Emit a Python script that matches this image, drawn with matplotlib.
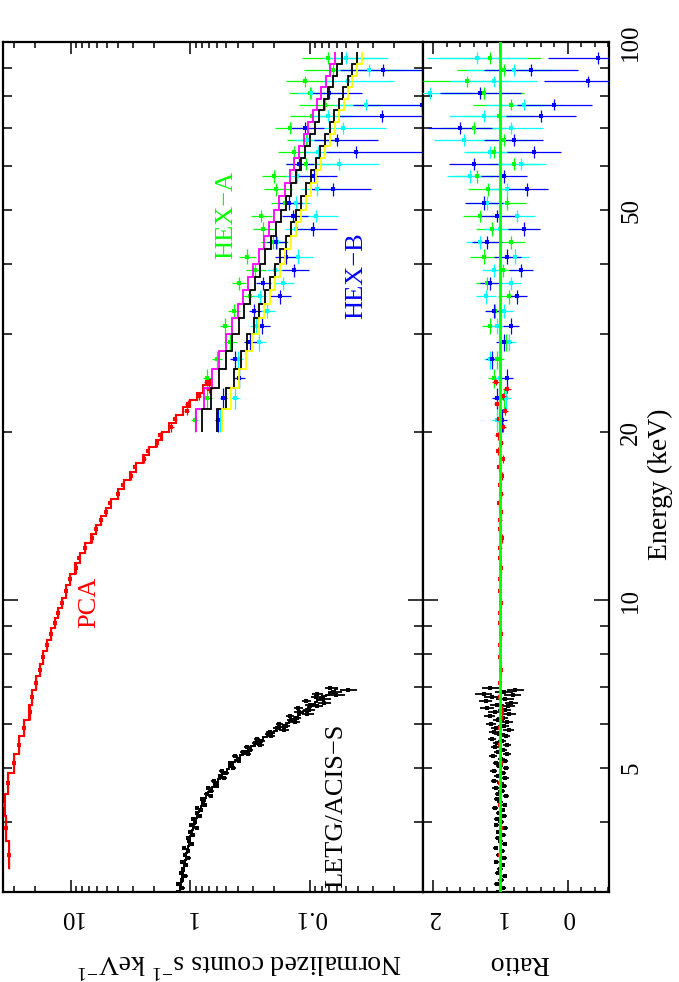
import numpy as np
import matplotlib.pyplot as plt
from matplotlib.ticker import MultipleLocator, LogLocator, NullFormatter

plt.rcParams['font.family'] = ['Liberation Serif', 'DejaVu Serif']
plt.rcParams['mathtext.fontset'] = 'custom'
plt.rcParams['mathtext.rm'] = 'Liberation Serif'

# LETG/ACIS-S (black): bin centres (keV), model counts, data/model ratio, ratio error
letg_e = [3.00, 3.05, 3.10, 3.15, 3.20, 3.25, 3.30, 3.35, 3.40, 3.45,
          3.50, 3.55, 3.60, 3.65, 3.70, 3.75, 3.80, 3.85, 3.90, 3.95,
          4.00, 4.05, 4.10, 4.15, 4.20, 4.25, 4.30, 4.35, 4.40, 4.45,
          4.50, 4.55, 4.60, 4.65, 4.70, 4.75, 4.80, 4.85, 4.90, 4.95,
          5.00, 5.05, 5.10, 5.15, 5.20, 5.25, 5.30, 5.35, 5.40, 5.45,
          5.50, 5.55, 5.60, 5.65, 5.70, 5.75, 5.80, 5.85, 5.90, 5.95,
          6.00, 6.05, 6.10, 6.15, 6.20, 6.25, 6.30, 6.35, 6.40, 6.45,
          6.50, 6.55, 6.60, 6.65, 6.70, 6.75, 6.80, 6.85, 6.90, 6.95]
letg_model = [1.23, 1.215, 1.20, 1.185, 1.17, 1.155, 1.14, 1.125, 1.11, 1.095,
              1.08, 1.065, 1.05, 1.035, 1.02, 1.005, 0.99, 0.972, 0.955, 0.937,
              0.92, 0.90, 0.88, 0.86, 0.84, 0.82, 0.80, 0.78, 0.76, 0.735,
              0.71, 0.685, 0.66, 0.635, 0.61, 0.587, 0.565, 0.542, 0.52, 0.497,
              0.475, 0.457, 0.44, 0.42, 0.40, 0.382, 0.365, 0.347, 0.33, 0.31,
              0.29, 0.275, 0.26, 0.245, 0.23, 0.215, 0.20, 0.189, 0.178, 0.168,
              0.158, 0.149, 0.140, 0.133, 0.127, 0.121, 0.115, 0.109, 0.104, 0.099,
              0.095, 0.091, 0.088, 0.083, 0.079, 0.074, 0.070, 0.066, 0.062, 0.059]
letg_ratio = [1.03, 0.96, 1.05, 0.99, 0.94, 1.04, 1.01, 0.97, 1.06, 0.95,
              1.02, 0.98, 1.07, 0.94, 1.00, 1.04, 0.96, 1.03, 0.93, 1.06,
              0.99, 1.05, 0.95, 1.02, 0.97, 1.08, 0.94, 1.01, 1.05, 0.92,
              1.03, 0.98, 1.07, 0.95, 1.00, 1.09, 0.93, 1.04, 0.97, 1.10,
              0.92, 1.02, 1.06, 0.94, 0.99, 1.11, 0.91, 1.04, 0.96, 1.08,
              0.90, 1.05, 0.98, 1.13, 0.92, 1.02, 1.09, 0.88, 1.06, 0.95,
              1.14, 0.90, 1.03, 0.97, 1.16, 0.87, 1.08, 0.94, 1.20, 0.89,
              1.05, 0.84, 1.22, 0.93, 1.12, 0.82, 1.25, 0.95, 0.78, 1.15]
letg_rerr = [0.04, 0.04, 0.04, 0.04, 0.04, 0.04, 0.04, 0.04, 0.04, 0.04,
             0.04, 0.04, 0.04, 0.04, 0.04, 0.04, 0.04, 0.04, 0.04, 0.04,
             0.04, 0.04, 0.04, 0.04, 0.04, 0.04, 0.04, 0.04, 0.04, 0.04,
             0.05, 0.05, 0.05, 0.05, 0.05, 0.05, 0.05, 0.05, 0.05, 0.05,
             0.05, 0.05, 0.05, 0.05, 0.05, 0.06, 0.06, 0.06, 0.06, 0.06,
             0.06, 0.06, 0.06, 0.06, 0.06, 0.08, 0.08, 0.08, 0.08, 0.08,
             0.08, 0.08, 0.08, 0.08, 0.08, 0.10, 0.10, 0.10, 0.10, 0.10,
             0.10, 0.10, 0.10, 0.13, 0.13, 0.13, 0.13, 0.13, 0.13, 0.13]
letg_half = 0.025

# PCA (red): bin edges, model, ratio, ratio error
pca_edges = [3.3, 3.7, 4.1, 4.5, 4.9, 5.3, 5.7, 6.1, 6.5, 6.9, 7.3, 7.7, 8.1,
             8.5, 8.9, 9.3, 9.7, 10.1, 10.65, 11.15, 11.65, 12.15, 12.65,
             13.15, 13.65, 14.15, 14.65, 15.2, 15.8, 16.4, 17.0, 17.6, 18.2,
             18.8, 19.4, 20.05, 20.75, 21.45, 22.15, 22.85, 23.55, 24.25, 24.95]
pca_model = [33, 35, 35.5, 33.5, 30, 27, 24.5, 22.5, 21, 19.5,
             18.2, 17, 15.8, 14.7, 13.6, 12.7, 11.9, 11.0, 10.2, 9.2,
             8.4, 7.6, 6.8, 6.1, 5.6, 5.1, 4.6, 4.05, 3.6, 3.2,
             2.85, 2.5, 2.2, 1.93, 1.72, 1.50, 1.32, 1.15, 1.0, 0.88, 0.78, 0.69]
pca_ratio = [1.00, 0.99, 1.01, 1.00, 0.99, 1.01, 1.00, 0.98, 1.01, 1.00,
             0.99, 1.01, 1.00, 0.99, 1.00, 1.01, 0.99, 1.00, 1.00, 0.99,
             1.01, 1.00, 0.98, 1.01, 1.00, 0.99, 1.02, 0.99, 1.01, 0.98,
             1.02, 0.97, 1.03, 0.99, 1.04, 0.96, 1.02, 0.93, 1.05, 0.97, 0.90, 1.06]
pca_rerr = [0.010, 0.010, 0.010, 0.010, 0.010, 0.010, 0.010, 0.010, 0.010, 0.010,
            0.011, 0.011, 0.011, 0.012, 0.012, 0.012, 0.013, 0.013, 0.014, 0.014,
            0.015, 0.015, 0.016, 0.017, 0.018, 0.019, 0.020, 0.021, 0.022, 0.024,
            0.026, 0.028, 0.030, 0.032, 0.035, 0.038, 0.041, 0.044, 0.048, 0.052,
            0.056, 0.060]

# HEXTE: bin edges, cluster-A model, cross-normalisation of the four model curves
hex_edges = [20.0, 22.0, 24.0, 26.0, 28.0, 30.0, 32.0, 34.0, 36.0, 38.0, 40.0,
             42.5, 45.0, 47.5, 50.0, 53.0, 56.0, 59.0, 62.0, 65.0, 68.5, 72.0,
             75.5, 79.0, 83.0, 87.0, 91.5, 96.0]
hex_model = [0.90, 0.765, 0.659, 0.574, 0.505, 0.448, 0.401, 0.361, 0.327, 0.297,
             0.269, 0.242, 0.219, 0.199, 0.181, 0.163, 0.148, 0.135, 0.124, 0.113,
             0.104, 0.095, 0.0874, 0.0803, 0.0736, 0.0675, 0.0618]
hex_norm = [1.0, 0.88, 0.66, 0.60]
hex_line_colors = ['#ff00ff', 'black', 'black', '#ffff00']
hexa_ratio = [1.02, 0.95, 1.10, 1.05, 0.92, 1.15, 1.08, 0.88, 1.20, 0.97,
              1.25, 0.85, 1.12, 1.30, 0.90, 1.18, 1.35, 0.80, 1.10, 0.95,
              1.40, 1.02, 0.85, 1.25, 1.50, 0.95, 1.15]
hexc_ratio = [1.05, 0.92, 1.00, 1.15, 0.88, 1.05, 0.95, 1.22, 0.85, 1.10,
              0.78, 1.30, 1.00, 0.75, 1.20, 0.90, 1.45, 0.70, 1.15, 1.55,
              0.85, 1.25, 0.65, 2.05, 1.10, 0.80, 1.35]
hexb_ratio = [0.98, 1.05, 0.90, 1.12, 0.95, 0.85, 1.10, 0.75, 1.15, 0.70,
              0.90, 1.20, 0.65, 1.05, 1.25, 0.60, 0.95, 1.40, 0.50, 0.80,
              1.60, 0.40, 0.20, 1.30, -0.30, 0.55, -0.45]
hex_rerr = [0.07, 0.08, 0.09, 0.10, 0.11, 0.12, 0.13, 0.15, 0.16, 0.18,
            0.20, 0.22, 0.24, 0.26, 0.28, 0.31, 0.34, 0.37, 0.40, 0.44,
            0.48, 0.52, 0.56, 0.60, 0.65, 0.70, 0.75]

RED, GREEN, BLUE, CYAN = '#ff0000', '#00ff00', '#0000ff', '#00ffff'

W, H = 679, 982
fig = plt.figure(figsize=(W / 100, H / 100), dpi=100)


def fx(x):
    return x / W


def fy(y):
    return 1 - y / H


x0, x1, x2, ytop, ybot = 3, 422.7, 609, 42, 892
ax1 = fig.add_axes([fx(x0), fy(ybot), (x1 - x0) / W, (ybot - ytop) / H])
ax2 = fig.add_axes([fx(x1), fy(ybot), (x2 - x1) / W, (ybot - ytop) / H], sharey=ax1)


def points(ax, e, ehalf, val, lo, hi, color, z=3, ms=2.2, lw=0.9):
    ax.errorbar(val, e, xerr=[lo, hi], yerr=ehalf, fmt='s', ms=ms, mew=0,
                color=color, elinewidth=lw, capsize=0, zorder=z)


def spectrum(e, ehalf, model, ratio, rerr, color, z=3, ms=2.2, lw=0.9):
    e, ehalf = np.asarray(e), np.asarray(ehalf)
    model, ratio, rerr = np.asarray(model), np.asarray(ratio), np.asarray(rerr)
    data = model * ratio
    err = model * rerr
    ok = data > 0
    lo = np.minimum(err, data * 0.995)
    points(ax1, e[ok], ehalf[ok], data[ok], lo[ok], err[ok], color, z, ms, lw)
    points(ax2, e, ehalf, ratio, rerr, rerr, color, z, ms, lw)


# LETG
le = np.asarray(letg_e)
letg_edges = np.append(le - letg_half, le[-1] + letg_half)
spectrum(le, np.full(le.size, letg_half), letg_model, letg_ratio, letg_rerr,
         'black', 3, 3.0, 1.3)
ax1.stairs(letg_model, letg_edges, orientation='horizontal', baseline=None,
           color='black', lw=1.4, zorder=4)

# PCA
pe = np.asarray(pca_edges)
spectrum((pe[1:] + pe[:-1]) / 2, (pe[1:] - pe[:-1]) / 2, pca_model, pca_ratio,
         pca_rerr, RED, 4)
ax1.stairs(pca_model, pca_edges, orientation='horizontal', baseline=None,
           color=RED, lw=1.5, zorder=4)

# HEXTE
he = np.asarray(hex_edges)
hc, hh = (he[1:] + he[:-1]) / 2, (he[1:] - he[:-1]) / 2
hm = np.asarray(hex_model)
spectrum(hc, hh, hm * hex_norm[0], hexa_ratio, hex_rerr, GREEN, 3)
spectrum(hc, hh, hm * hex_norm[3], hexc_ratio, hex_rerr, CYAN, 3)
spectrum(hc, hh, hm * hex_norm[2], hexb_ratio, hex_rerr, BLUE, 3)
for k, c in zip(hex_norm, hex_line_colors):
    ax1.stairs(hm * k, hex_edges, orientation='horizontal', baseline=None,
               color=c, lw=1.3, zorder=5)

ax2.axvline(1.0, color=GREEN, lw=2, zorder=6)

# axes
ax1.set_xscale('log')
ax1.set_yscale('log')
ax1.set_xlim(36.8, 0.01143)
ax1.set_ylim(3, 100)
ax2.set_xlim(2.158, -0.615)

ax1.set_xticks([10, 1, 0.1], ['10', '1', '0.1'])
ax1.xaxis.set_minor_locator(LogLocator(subs=np.arange(2, 10)))
ax1.xaxis.set_minor_formatter(NullFormatter())
ax2.set_xticks([2, 1, 0], ['2', '1', '0'])
ax2.xaxis.set_minor_locator(MultipleLocator(0.2))

minor_e = [3, 4, 5, 6, 7, 8, 9, 20, 30, 40, 50, 60, 70, 80, 90]
minor_lab = ['', '', '5', '', '', '', '', '20', '', '', '50', '', '', '', '']
ax2.set_yticks([10, 100], ['10', '100'])
ax2.set_yticks(minor_e, minor_lab, minor=True)

for ax in (ax1, ax2):
    for s in ax.spines.values():
        s.set_linewidth(1.6)
    ax.tick_params(axis='x', which='both', direction='in', top=True, bottom=True,
                   labelrotation=180, labelsize=18, pad=10, width=1.1)
    ax.tick_params(axis='y', which='both', direction='in', left=True, right=True,
                   width=1.1)
    ax.tick_params(axis='y', which='major', length=11)
    ax.tick_params(axis='y', which='minor', length=6.5)
ax1.tick_params(axis='x', which='major', length=8.5)
ax1.tick_params(axis='x', which='minor', length=4.3)
ax2.tick_params(axis='x', which='major', length=8.5)
ax2.tick_params(axis='x', which='minor', length=3.8)
ax1.tick_params(axis='y', which='both', labelleft=False, labelright=False)
ax2.tick_params(axis='y', which='both', labelleft=False, labelright=True,
                labelrotation=90, labelsize=18, pad=8)
for t in ax2.get_yticklabels() + ax2.get_yticklabels(minor=True):
    t.set_va('center')

# axis titles
fig.text(fx(240), fy(963), r'Normalized counts s$^{-1}$ keV$^{-1}$', rotation=180,
         ha='center', va='center', fontsize=20)
fig.text(fx(519), fy(963), 'Ratio', rotation=180, ha='center', va='center', fontsize=20)
fig.text(fx(660), fy(484), 'Energy (keV)', rotation=90, ha='center', va='center',
         fontsize=20)

# instrument labels
fig.text(fx(89), fy(602), 'PCA', color=RED, rotation=90, ha='center', va='center',
         fontsize=19)
fig.text(fx(336), fy(806), 'LETG/ACIS\u2212S', color='black', rotation=90,
         ha='center', va='center', fontsize=19)
fig.text(fx(226), fy(215), 'HEX\u2212A', color=GREEN, rotation=90, ha='center',
         va='center', fontsize=19)
fig.text(fx(356), fy(276), 'HEX\u2212B', color=BLUE, rotation=90, ha='center',
         va='center', fontsize=19)

fig.savefig('out.png', dpi=100)
